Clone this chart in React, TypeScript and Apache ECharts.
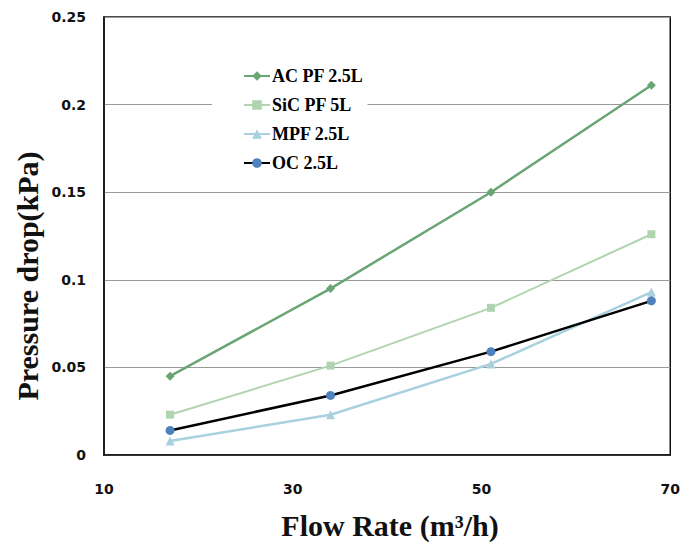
import React, { useEffect, useRef } from "react";
import * as echarts from "echarts";

const flowRates = [17, 34, 51, 68];
const acPf25 = [0.045, 0.095, 0.15, 0.211];
const sicPf5 = [0.023, 0.051, 0.084, 0.126];
const mpf25 = [0.008, 0.023, 0.052, 0.093];
const oc25 = [0.014, 0.034, 0.059, 0.088];
const seriesNames = ["AC PF 2.5L", "SiC PF 5L", "MPF 2.5L", "OC 2.5L"];

const pair = (ys: number[]) => flowRates.map((x, i) => [x, ys[i]]);

export default function App() {
  const ref = useRef<HTMLDivElement>(null);
  useEffect(() => {
    if (!ref.current) return;
    const chart = echarts.init(ref.current, undefined, { renderer: "svg" });
    const tickFont = { fontFamily: "DejaVu Sans", fontWeight: "bold" as const, fontSize: 14, color: "#111" };
    chart.setOption({
      animation: false,
      backgroundColor: "#fff",
      grid: { left: 104, right: 10, top: 17, bottom: 92, show: true, borderColor: "#111", borderWidth: 1.5, backgroundColor: "transparent" },
      xAxis: {
        type: "value", min: 10, max: 70, interval: 20,
        axisLine: { show: true, lineStyle: { color: "#111", width: 1.5 } },
        axisTick: { show: false },
        splitLine: { show: false },
        axisLabel: { ...tickFont, margin: 27 },
      },
      yAxis: {
        type: "value", min: 0, max: 0.25, interval: 0.05,
        axisLine: { show: true, lineStyle: { color: "#111", width: 1.5 } },
        axisTick: { show: false },
        splitLine: { show: true, lineStyle: { color: "#999", width: 1 } },
        axisLabel: { ...tickFont, margin: 18 },
      },
      legend: {
        orient: "vertical", left: 212, top: 61,
        backgroundColor: "#fff",
        padding: [6, 4, 6, 31],
        itemWidth: 26, itemHeight: 12, itemGap: 11,
        textStyle: { fontFamily: "Liberation Serif", fontWeight: "bold", fontSize: 18, color: "#000", padding: [0, 0, 0, -3] },
        data: seriesNames,
      },
      graphic: [
        { type: "text", x: 27, y: 276, rotation: Math.PI / 2, style: { text: "Pressure drop(kPa)", font: "bold 30px 'Liberation Serif'", fill: "#111", align: "center", verticalAlign: "middle" } },
        { type: "text", x: 390, y: 525, style: { text: "Flow Rate (m\u00b3/h)", font: "bold 30px 'Liberation Serif'", fill: "#111", align: "center", verticalAlign: "middle" } },
      ],
      series: [
        { name: seriesNames[0], type: "line", data: pair(acPf25), symbol: "diamond", symbolSize: 9, lineStyle: { color: "#6aa574", width: 2.5 }, itemStyle: { color: "#6aa574" } },
        { name: seriesNames[1], type: "line", data: pair(sicPf5), symbol: "rect", symbolSize: 8, lineStyle: { color: "#b0d4b0", width: 2 }, itemStyle: { color: "#b0d4b0" } },
        { name: seriesNames[2], type: "line", data: pair(mpf25), symbol: "triangle", symbolSize: 9, lineStyle: { color: "#a9d0de", width: 2.5 }, itemStyle: { color: "#a9d0de" } },
        { name: seriesNames[3], type: "line", data: pair(oc25), symbol: "circle", symbolSize: 9, lineStyle: { color: "#000", width: 2.5 }, itemStyle: { color: "#4f81bd" } },
      ],
    });
    return () => chart.dispose();
  }, []);
  return <div ref={ref} style={{ width: 683, height: 547, position: "absolute", left: 0, top: 0 }} />;
}
